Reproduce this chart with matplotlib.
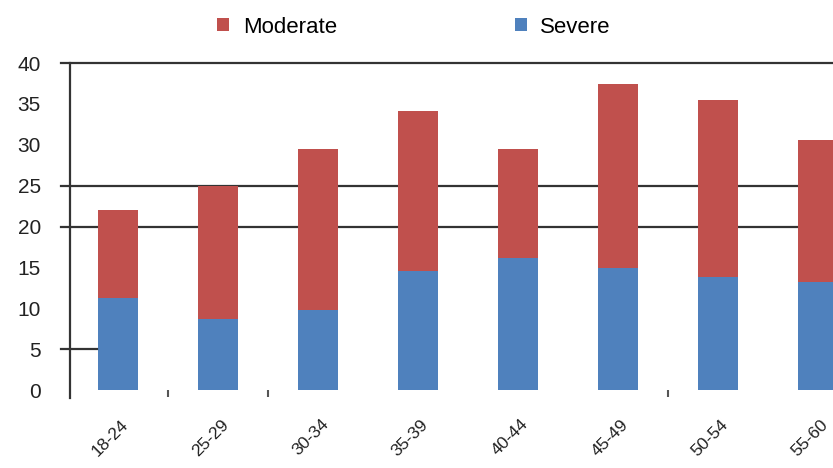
import matplotlib
matplotlib.use("Agg")
import matplotlib.pyplot as plt
from matplotlib.transforms import ScaledTranslation
import numpy as np

categories = ["18-24", "25-29", "30-34", "35-39", "40-44", "45-49", "50-54", "55-60"]
severe = [11.2, 8.7, 9.8, 14.6, 16.1, 14.9, 13.8, 13.2]
total = [22.0, 25.0, 29.5, 34.1, 29.5, 37.4, 35.5, 30.6]
moderate = [t - s for t, s in zip(total, severe)]
yticks = [0, 5, 10, 15, 20, 25, 30, 35, 40]

plt.rcParams['font.family'] = ['Liberation Sans', 'DejaVu Sans']

fig = plt.figure(figsize=(8.33, 4.68), dpi=100)
ax = fig.add_axes([70/833, 1-390/468, 1-70/833, (390-63)/468])

x = np.arange(len(categories))
ax.bar(x, severe, width=0.4, color='#4F81BD', label='Severe', zorder=3)
ax.bar(x, moderate, bottom=severe, width=0.4, color='#C0504D', label='Moderate', zorder=3)

ax.set_xlim(-0.48, 7.15)
ax.set_ylim(0, 40)
ax.set_yticks(yticks)
ax.set_yticklabels([str(v) for v in yticks], fontsize=15, color='#222222')
ax.tick_params(axis='y', length=0, pad=21)
for v in (20, 25, 40):
    ax.axhline(v, color='#333333', lw=1.6, zorder=2, xmin=-0.012, clip_on=False)
ax.axhline(5, color='#333333', lw=1.6, xmin=-0.012, xmax=0.035, zorder=4, clip_on=False)

ax.set_xticks(x)
ax.set_xticklabels(categories, rotation=45, fontsize=12.5, color='#222222',
                   ha='right', va='center', rotation_mode='anchor')
ax.tick_params(axis='x', which='major', length=0, pad=23)
off = ScaledTranslation(8/100, 0, fig.dpi_scale_trans)
for lab in ax.get_xticklabels():
    lab.set_transform(lab.get_transform() + off)
ax.set_xticks([0.5, 1.5, 5.5], minor=True)
ax.tick_params(axis='x', which='minor', length=5, width=1.5, color='#555555', direction='out')

for s in ('top', 'right', 'bottom'):
    ax.spines[s].set_visible(False)
ax.spines['left'].set_color('#333333')
ax.spines['left'].set_linewidth(1.6)
ax.spines['left'].set_bounds(-1, 40)
ax.spines['left'].set_clip_on(False)

h, l = ax.get_legend_handles_labels()
fig.legend(h[::-1], l[::-1], loc='center', bbox_to_anchor=(0.497, 0.942), ncol=2, frameon=False,
           fontsize=16, handlelength=0.55, handleheight=0.55, columnspacing=8.0, handletextpad=0.6)

fig.savefig('out.png', dpi=100)
